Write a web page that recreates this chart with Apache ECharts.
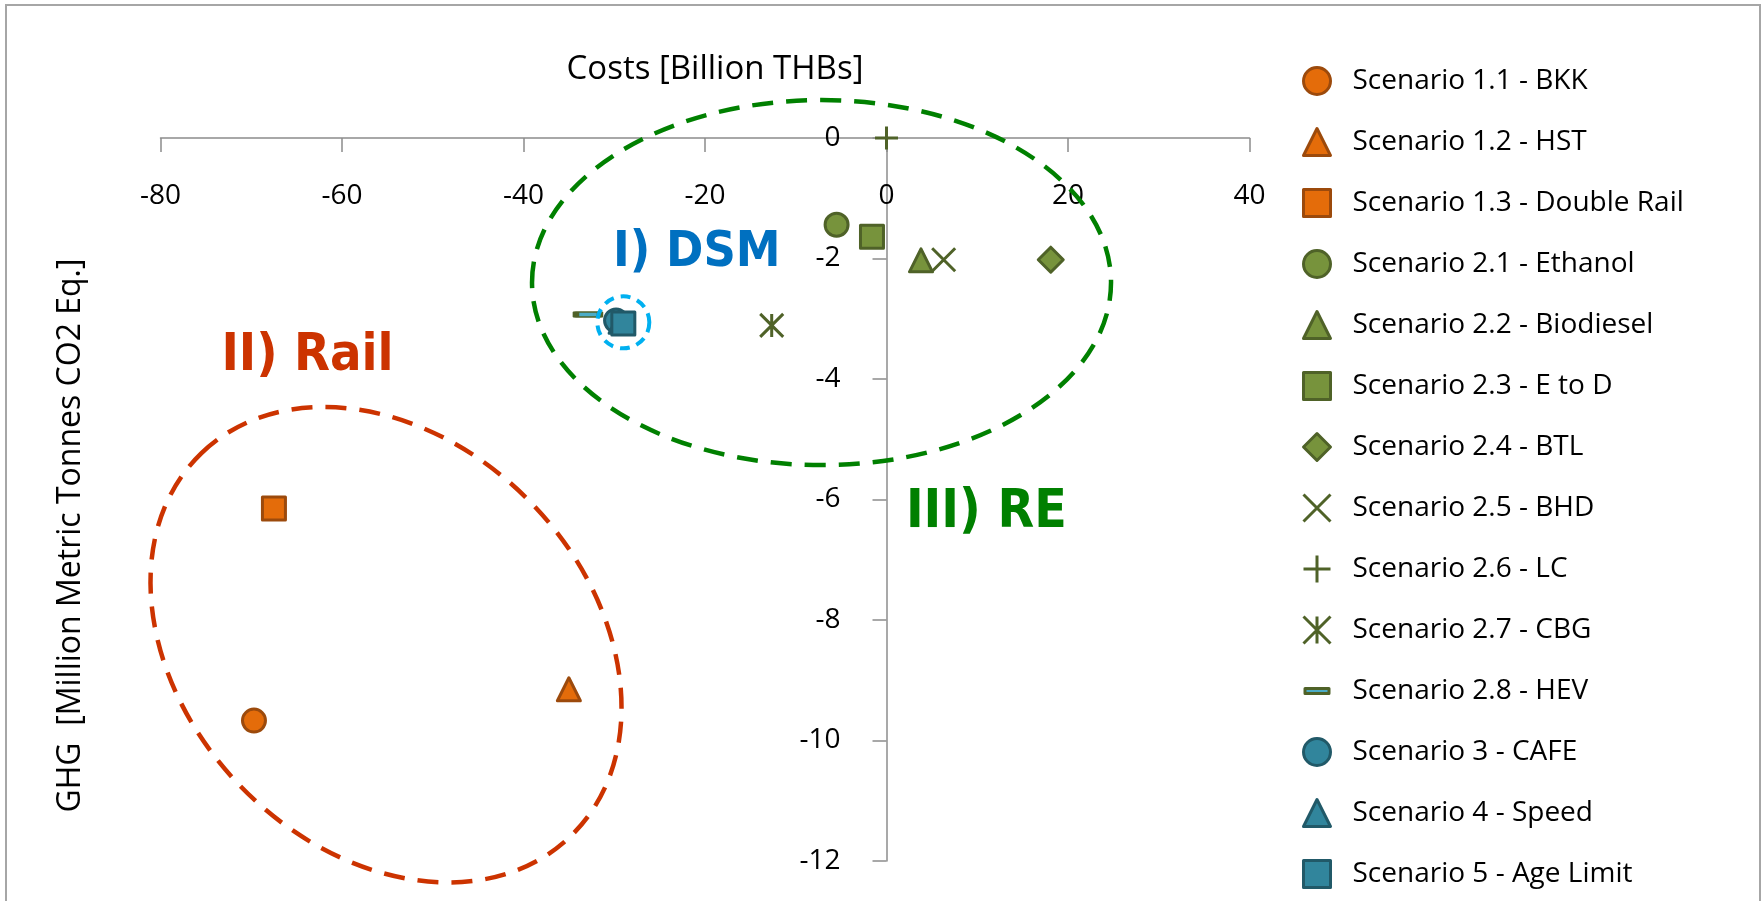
<!DOCTYPE html>
<html>
<head>
<meta charset="utf-8">
<script src="https://cdn.jsdelivr.net/npm/echarts@6/dist/echarts.min.js"></script>
<style>
  html, body { margin: 0; padding: 0; background: #ffffff; }
  #chart { width: 1763px; height: 901px; }
</style>
</head>
<body>
<div id="chart"></div>
<script>
// Scenario results: cost (billion THB) against GHG change (Mt CO2 eq.)
const scenarios = [
  'Scenario 1.1 - BKK', 'Scenario 1.2 - HST', 'Scenario 1.3 - Double Rail',
  'Scenario 2.1 - Ethanol', 'Scenario 2.2 - Biodiesel', 'Scenario 2.3 - E to D',
  'Scenario 2.4 - BTL', 'Scenario 2.5 - BHD', 'Scenario 2.6 - LC',
  'Scenario 2.7 - CBG', 'Scenario 2.8 - HEV', 'Scenario 3 - CAFE',
  'Scenario 4 - Speed', 'Scenario 5 - Age Limit'
];
const costs = [-69.7, -35.0, -67.5, -5.5, 3.8, -1.6, 18.1, 6.3, 0, -12.65, -32.9, -29.8, -29.3, -29.0];
const ghg   = [-9.67, -9.15, -6.15, -1.44, -2.03, -1.64, -2.02, -2.02, 0, -3.11, -2.93, -3.03, -3.05, -3.08];

// Axis scales
const xRange = [-80, 40];
const xStep = 20;
const yRange = [-12, 0];
const yStep = 2;

// Group annotations, anchored in data units
const groupLabels = ['I) DSM', 'II) Rail', 'III) RE'];
const groupLabelAt = [[-20.9, -1.91], [-63.8, -3.63], [11.0, -6.22]];
const groupColors = ['#0070C0', '#CC3300', '#008000'];
const groupFontSize = [50, 52, 53];

// Marker styling per scenario
const ORANGE = { fill: '#E46C0A', edge: '#9C4A0C' };
const GREEN = { fill: '#77933C', edge: '#4F6228' };
const TEAL = { fill: '#31859C', edge: '#215968' };
const CROSS = 'path://M0,0L20,20M0,20L20,0';
const PLUS = 'path://M10,0L10,20M0,10L20,10';
const STAR = 'path://M0,0L20,20M0,20L20,0M10,0L10,20';
const HEV_ICON = 'path://M0,0M27,27M1.5,11H25.5V16H1.5Z';

const markerStyles = [
  { symbol: 'circle', size: 23, c: ORANGE },
  { symbol: 'triangle', size: 23, c: ORANGE },
  { symbol: 'rect', size: 23, c: ORANGE },
  { symbol: 'circle', size: 23, c: GREEN },
  { symbol: 'triangle', size: 23, c: GREEN },
  { symbol: 'rect', size: 23, c: GREEN },
  { symbol: 'diamond', size: 25, c: GREEN },
  { symbol: CROSS, size: 23, c: GREEN, open: true },
  { symbol: PLUS, size: 23, c: GREEN, open: true },
  { symbol: STAR, size: 23, c: GREEN, open: true },
  { symbol: 'rect', size: [24, 5], c: { fill: '#4BACC6', edge: '#4F6228' } },
  { symbol: 'circle', size: 23, c: TEAL },
  { symbol: 'triangle', size: 23, c: TEAL },
  { symbol: 'rect', size: 23, c: TEAL }
];

const FONT = '"Open Sans", "Noto Sans", sans-serif';
const BOLD_FONT = '"DejaVu Sans Condensed", "DejaVu Sans", sans-serif';
const AXIS_GREY = '#8c8c8c';
const GRID_LEFT = 160.5;

const series = scenarios.map((name, i) => {
  const st = markerStyles[i];
  return {
    type: 'scatter',
    name: name,
    data: [[costs[i], ghg[i]]],
    symbol: st.symbol,
    symbolSize: st.size,
    itemStyle: {
      color: st.open ? 'transparent' : st.c.fill,
      borderColor: st.c.edge,
      borderWidth: 3,
      borderJoin: 'round',
      opacity: 1
    },
    emphasis: { disabled: true }
  };
});

const chart = echarts.init(document.getElementById('chart'), null, { renderer: 'canvas' });

chart.setOption({
  animation: false,
  backgroundColor: '#ffffff',
  grid: { left: GRID_LEFT, right: 513.5, top: 138, bottom: 40, outerBoundsMode: 'none' },
  xAxis: {
    type: 'value',
    position: 'top',
    min: xRange[0], max: xRange[1], interval: xStep,
    name: 'Costs [Billion THBs]',
    nameLocation: 'middle',
    nameGap: 52,
    nameTextStyle: { fontFamily: FONT, fontSize: 33, color: '#000', padding: [0, 0, 0, 20] },
    axisLine: { onZero: false, lineStyle: { color: AXIS_GREY, width: 1.5 } },
    axisTick: { show: true, inside: true, length: 14, lineStyle: { color: AXIS_GREY, width: 1.5 } },
    axisLabel: { inside: true, margin: 44, fontFamily: FONT, fontSize: 28, color: '#000' },
    splitLine: { show: false }
  },
  yAxis: {
    type: 'value',
    position: 'left',
    min: yRange[0], max: yRange[1], interval: yStep,
    name: 'GHG  [Million Metric Tonnes CO2 Eq.]',
    nameLocation: 'middle',
    nameGap: 800,
    nameTextStyle: { fontFamily: FONT, fontSize: 32, color: '#000', padding: [0, 72, 0, 0] },
    axisLine: { onZero: false, lineStyle: { color: AXIS_GREY, width: 1.5 } },
    axisTick: { show: true, inside: false, length: 14, lineStyle: { color: AXIS_GREY, width: 1.5 } },
    axisLabel: { margin: 46, fontFamily: FONT, fontSize: 28, color: '#000' },
    splitLine: { show: false }
  },
  legend: {
    orient: 'vertical',
    left: 1302,
    top: 66,
    padding: 0,
    itemWidth: 27,
    itemHeight: 27,
    itemGap: 31,
    selectedMode: false,
    itemStyle: { borderWidth: 3 },
    textStyle: { fontFamily: FONT, fontSize: 28, color: '#000', padding: [0, 0, 0, 17] },
    data: scenarios.map((n, i) => (i === 10 ? { name: n, icon: HEV_ICON } : n))
  },
  series: series
});

// Move the vertical axis onto cost = 0
const toPx = p => chart.convertToPixel({ gridIndex: 0 }, p);
const zeroX = chart.convertToPixel({ xAxisIndex: 0 }, 0);
chart.setOption({ yAxis: { offset: GRID_LEFT - zeroX } });

// Annotation layer: group outlines and group names, placed from data coordinates
const greenC = toPx([-7.16, -2.40]);
const redC = toPx([-55.15, -8.41]);
const blueC = toPx([-29.0, -3.06]);

const graphics = [
  {
    type: 'rect', silent: true,
    shape: { x: 6, y: 5, width: 1754, height: 910 },
    style: { fill: 'none', stroke: '#a6a6a6', lineWidth: 2 }
  },
  {
    type: 'ellipse', silent: true, z: 10,
    x: greenC[0], y: greenC[1],
    shape: { cx: 0, cy: 0, rx: 289.5, ry: 182.5 },
    style: { fill: 'none', stroke: '#008000', lineWidth: 4.5, lineDash: [21, 13] }
  },
  {
    type: 'ellipse', silent: true, z: 10,
    x: redC[0], y: redC[1],
    rotation: -46 * Math.PI / 180,
    shape: { cx: 0, cy: 0, rx: 266, ry: 203 },
    style: { fill: 'none', stroke: '#CC3300', lineWidth: 4.5, lineDash: [21, 13] }
  },
  {
    type: 'circle', silent: true, z: 10,
    x: blueC[0], y: blueC[1],
    shape: { cx: 0, cy: 0, r: 26 },
    style: { fill: 'none', stroke: '#00B0F0', lineWidth: 4, lineDash: [10, 7] }
  }
];

groupLabels.forEach((t, i) => {
  const p = toPx(groupLabelAt[i]);
  graphics.push({
    type: 'text', silent: true, z: 11,
    x: p[0], y: p[1],
    style: {
      text: t,
      fill: groupColors[i],
      fontSize: groupFontSize[i],
      fontWeight: 'bold',
      fontFamily: BOLD_FONT,
      align: 'center',
      verticalAlign: 'middle'
    }
  });
});

chart.setOption({ graphic: graphics });
</script>
</body>
</html>
